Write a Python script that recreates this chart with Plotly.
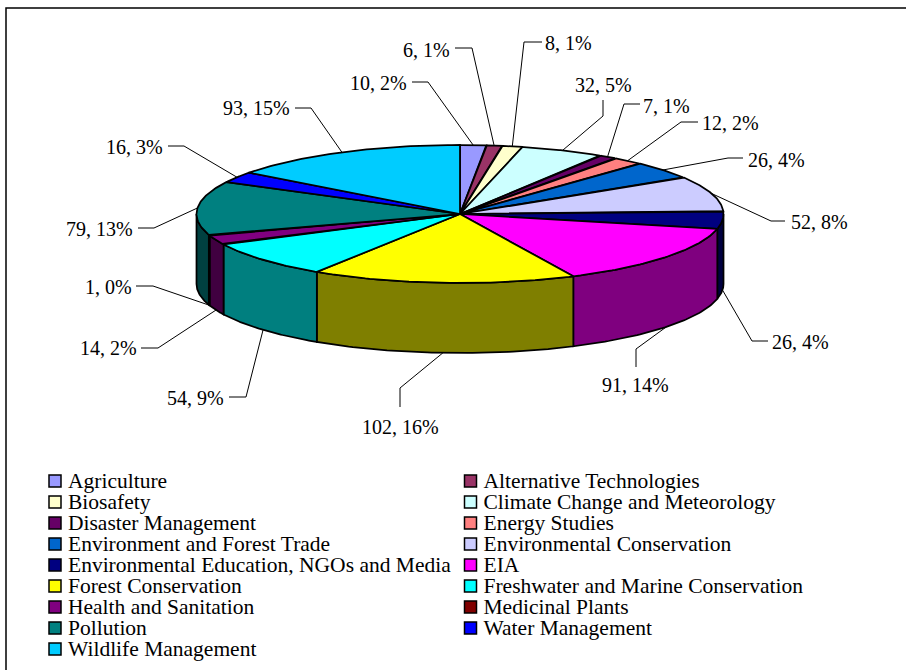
import numpy as np
import plotly.graph_objects as go

categories = ["Agriculture", "Alternative Technologies", "Biosafety", "Climate Change and Meteorology",
              "Disaster Management", "Energy Studies", "Environment and Forest Trade",
              "Environmental Conservation", "Environmental Education, NGOs and Media", "EIA",
              "Forest Conservation", "Freshwater and Marine Conservation", "Health and Sanitation",
              "Medicinal Plants", "Pollution", "Water Management", "Wildlife Management"]
values = [10, 6, 8, 32, 7, 12, 26, 52, 26, 91, 102, 54, 14, 1, 79, 16, 93]
colors = ["#9999FF", "#993366", "#FFFFCC", "#CCFFFF", "#660066", "#FF8080", "#0066CC", "#CCCCFF",
          "#000080", "#FF00FF", "#FFFF00", "#00FFFF", "#800080", "#800000", "#008080", "#0000FF", "#00CCFF"]
percent_labels = ["2%", "1%", "1%", "5%", "1%", "2%", "4%", "8%", "4%", "14%", "16%", "9%", "2%", "0%", "13%", "3%", "15%"]

# layout constants of the drawing (pixels)
CX, CY, RX, RY, DEPTH = 460, 214, 263.5, 69, 70
# text anchor: (x, y, anchor side) and leader bend points
label_pos = [(409, 83, "right"), (452, 50, "right"), (543, 43, "left"), (603, 85, "center"),
             (641, 106, "left"), (700, 123, "left"), (746, 160, "left"), (789, 222, "left"),
             (770, 342, "left"), (635, 385, "center"), (400, 427, "center"), (226, 398, "right"),
             (139, 348, "right"), (134, 287, "right"), (135, 229, "right"), (165, 147, "right"),
             (292, 108, "right")]
leader_bend = [[(428, 82), (412, 82)], [(472, 48), (455, 48)], [(524, 42), (542, 42)], [(603, 116), (603, 100)],
               [(624, 104), (640, 104)], [(681, 122), (698, 122)], [(728, 158), (743, 158)], [(771, 221), (785, 221)],
               [(752, 341), (768, 341)], [(636, 349), (636, 367)], [(400, 388), (400, 407)], [(246, 397), (229, 397)],
               [(158, 348), (141, 348)], [(153, 286), (136, 286)], [(154, 228), (138, 228)], [(184, 146), (168, 146)],
               [(311, 108), (295, 108)]]
# where each leader leaves the pie: on the rim (0) or on the lower rim of the wall (1)
leader_on_wall = [0, 0, 0, 0, 0, 0, 0, 0, 1, 1, 1, 1, 1, 1, 0, 0, 0]

total = sum(values)
edges = np.concatenate([[0], np.cumsum(values)]) / total * 2 * np.pi


def rim(t, dy=0.0):
    return CX + RX * np.sin(t), CY - RY * np.cos(t) + dy


fig = go.Figure()

# chart frame: only its left and top edges fall inside the picture
fig.add_shape(type="rect", x0=6, y0=8, x1=1000, y1=800, xref="x", yref="y",
              line=dict(color="black", width=1.5), fillcolor="white", layer="below")


def darker(h):
    return "#%02X%02X%02X" % tuple(int(h[i:i + 2], 16) // 2 for i in (1, 3, 5))


# side walls (visible front half only)
for i, c in enumerate(colors):
    a, b = max(edges[i], np.pi / 2), min(edges[i + 1], 3 * np.pi / 2)
    if b <= a:
        continue
    t = np.linspace(a, b, 60)
    x1, y1 = rim(t)
    x2, y2 = rim(t[::-1], DEPTH)
    fig.add_trace(go.Scatter(x=np.r_[x1, x2, x1[0]], y=np.r_[y1, y2, y1[0]], mode="lines", fill="toself",
                             fillcolor=darker(c), line=dict(color="black", width=1.75),
                             hoverinfo="skip", showlegend=False))

# top faces
for i, c in enumerate(colors):
    t = np.linspace(edges[i], edges[i + 1], 60)
    x1, y1 = rim(t)
    fig.add_trace(go.Scatter(x=np.r_[CX, x1, CX], y=np.r_[CY, y1, CY], mode="lines", fill="toself",
                             fillcolor=c, line=dict(color="black", width=1.75),
                             name=categories[i], text=categories[i], hoverinfo="text", showlegend=False))

# data labels and leaders
for i, v in enumerate(values):
    mid = (edges[i] + edges[i + 1]) / 2
    sx, sy = rim(mid, DEPTH if leader_on_wall[i] else 0)
    (bx, by), (ex, ey) = leader_bend[i]
    fig.add_trace(go.Scatter(x=[sx, bx, ex], y=[sy, by, ey], mode="lines",
                             line=dict(color="black", width=1), hoverinfo="skip", showlegend=False))
    lx, ly, side = label_pos[i]
    fig.add_annotation(x=lx, y=ly, text=f"{v}, {percent_labels[i]}", showarrow=False,
                       xanchor=side, yanchor="middle", xref="x", yref="y",
                       font=dict(family="Liberation Serif", size=20, color="black"))

# two-column legend
rows = [(i // 2) for i in range(len(categories))]
leg_x = [55 if i % 2 == 0 else 470.5 for i in range(len(categories))]
leg_y = [481 + 21 * r for r in rows]
fig.add_trace(go.Scatter(x=leg_x, y=leg_y, mode="markers",
                         marker=dict(symbol="square", size=12, color=colors, line=dict(color="black", width=1.5)),
                         hoverinfo="skip", showlegend=False, cliponaxis=False))
fig.add_trace(go.Scatter(x=[v + 13 for v in leg_x], y=[v + 1.5 for v in leg_y], mode="text", text=categories,
                         textposition="middle right",
                         textfont=dict(family="Liberation Serif", size=21.5, color="black"),
                         hoverinfo="skip", showlegend=False, cliponaxis=False))

fig.update_layout(width=906, height=670, autosize=False, margin=dict(l=0, r=0, t=0, b=0),
                  paper_bgcolor="white", plot_bgcolor="white", showlegend=False,
                  xaxis=dict(range=[0, 906], visible=False, fixedrange=True),
                  yaxis=dict(range=[670, 0], visible=False, fixedrange=True))
fig.write_html("out.html", config={"displayModeBar": False},
               post_script="document.body.style.margin='0';document.body.style.overflow='hidden';")
